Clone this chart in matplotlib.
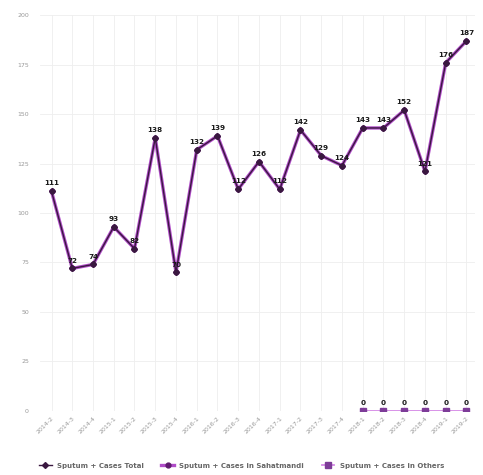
import matplotlib
matplotlib.use("Agg")
import matplotlib.pyplot as plt

# quarters, 2014-2 .. 2019-2
quarters = ['2014-2', '2014-3', '2014-4', '2015-1', '2015-2', '2015-3', '2015-4',
            '2016-1', '2016-2', '2016-3', '2016-4', '2017-1', '2017-2', '2017-3',
            '2017-4', '2018-1', '2018-2', '2018-3', '2018-4', '2019-1', '2019-2']
total = [111, 72, 74, 93, 82, 138, 70, 132, 139, 112, 126, 112, 142, 129,
         124, 143, 143, 152, 121, 176, 187]
sahatmandi = [111, 72, 74, 93, 82, 138, 70, 132, 139, 112, 126, 112, 142, 129,
              124, 143, 143, 152, 121, 176, 187]
others_idx = [15, 16, 17, 18, 19, 20]
others = [0, 0, 0, 0, 0, 0]

fig = plt.figure(figsize=(4.83, 4.75), dpi=100)
ax = fig.add_axes([0.083, 0.135, 0.9, 0.833])

x = list(range(len(quarters)))
ax.plot(x, sahatmandi, color='#b04cc8', lw=2.4, marker='o', ms=3.5, mfc='#5e1a6e',
        mec='#5e1a6e', zorder=3, label='Sputum + Cases in Sahatmandi')
ax.plot(x, total, color='#3a1840', lw=1.0, marker='D', ms=3, zorder=4,
        label='Sputum + Cases Total')
ax.plot(others_idx, others, color='#d58ae6', lw=1.3, marker='s', ms=4,
        mfc='#7d3c98', mec='#7d3c98', zorder=5, label='Sputum + Cases in Others')

for i, v in enumerate(total):
    ax.annotate(str(v), (i, v), xytext=(0, 3.5), textcoords='offset points',
                ha='center', va='bottom', fontsize=5.2, fontweight='bold',
                color='#1a1a1a', zorder=6)
for i, v in zip(others_idx, others):
    ax.annotate(str(v), (i, v), xytext=(0, 3.5), textcoords='offset points',
                ha='center', va='bottom', fontsize=5.2, fontweight='bold',
                color='#1a1a1a', zorder=6)

ax.set_ylim(0, 200)
ax.set_xlim(-0.55, 20.4)
ax.set_yticks(range(0, 201, 25))
ax.set_xticks(x)
ax.set_xticklabels(quarters, rotation=45, ha='right', rotation_mode='anchor')
ax.tick_params(axis='both', length=0, labelsize=4.5, colors='#999999')
ax.tick_params(axis='y', pad=8)
ax.grid(True, color='#eeeeee', lw=0.6)
ax.set_axisbelow(True)
for s in ax.spines.values():
    s.set_visible(False)

handles, labels = ax.get_legend_handles_labels()
order = [1, 0, 2]
leg = fig.legend([handles[i] for i in order], [labels[i] for i in order],
                 loc='lower center', bbox_to_anchor=(0.5, 0.0), ncol=3,
                 frameon=False, fontsize=5, handlelength=1.8, columnspacing=2.5)
for t in leg.get_texts():
    t.set_color('#666666')
    t.set_fontweight('bold')

fig.savefig('out.png', dpi=100)
